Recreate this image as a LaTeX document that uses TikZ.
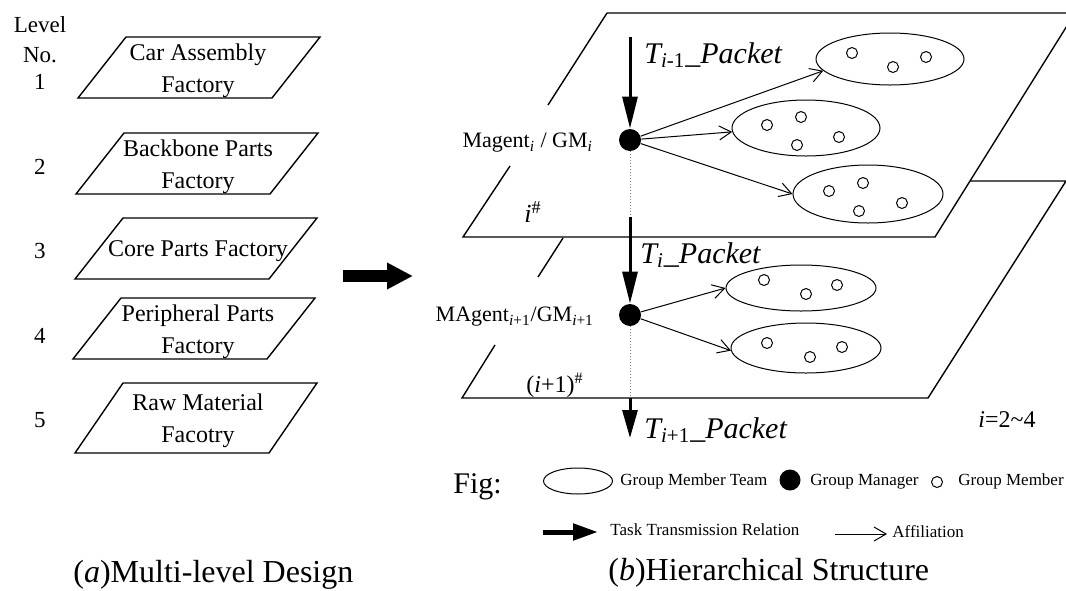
\documentclass[tikz,border=0pt]{standalone}
\usepackage{fontspec}
\setmainfont{Liberation Serif}
\usetikzlibrary{arrows.meta,shapes.geometric}

\begin{document}
\begin{tikzpicture}[x=0.5pt,y=-0.5pt]
    \tikzset{
    plate/.style={line width=0.7pt},
    lbl/.style={font=\fontsize{11.5}{14}\selectfont},
    ftxt/.style={align=center,font=\fontsize{12}{16}\selectfont},
    team/.style={ellipse,draw,line width=0.5pt,inner sep=0pt},
    mgr/.style={circle,fill=black,inner sep=0pt,minimum size=11pt},
    mbr/.style={circle,draw,line width=0.5pt,inner sep=0pt,minimum size=5.5pt},
    task/.style={line width=1.5pt,-{Triangle[length=16pt,width=7.5pt]}},
    aff/.style={line width=0.5pt,-{Straight Barb[length=6pt,width=7pt]}},
    link/.style={densely dotted,line width=0.5pt,gray},
    pkt/.style={anchor=base west,inner sep=0pt,font=\fontsize{15}{18}\selectfont\itshape},
    captxt/.style={anchor=west,inner sep=0pt,font=\fontsize{16}{19}\selectfont},
    key/.style={anchor=base west,inner sep=0pt,font=\fontsize{8.5}{10}\selectfont},
    }
    \useasboundingbox (0,0) rectangle (1066,590);

    % (a) levels
    \node[lbl] (lv) at (40,25) {Level};
    \node[lbl] (no) at (40,55) {No.};
    \foreach \y/\n in {82/1,167/2,251/3,336/4,420/5}
        \node[lbl] (n\n) at (40,\y) {\n};

    \foreach \xb/\yt/\yb/\nm/\txt in {78/37/98/f1/{Car Assembly\\Factory},
        76/133/194/f2/{Backbone Parts\\Factory},
        75/218/279/f3/{Core Parts Factory},
        73/298/359/f4/{Peripheral Parts\\Factory},
        75/383/453/f5/{Raw Material\\Facotry}} {
        \draw[plate] (\xb,\yb) -- (\xb+48,\yt) -- (\xb+242,\yt) -- (\xb+194,\yb) -- cycle;
        \node[ftxt] (\nm) at (198,{(\yt+\yb)/2+3}) {\txt};
    }

    \coordinate (a0) at (343,276);
    \coordinate (a1) at (413,276);
    \draw[line width=6pt,-{Triangle[length=13pt,width=12.5pt]}] (a0) -- (a1);

    % (b) planes
    \draw[plate] (607,13) -- (1075,13) -- (935,237) -- (463,237) -- (510,166);
    \draw[plate] (548,105) -- (607,13);
    \draw[plate] (970,181) -- (1066,181) -- (928,398) -- (462,398) -- (495,345);
    \draw[plate] (538,277) -- (563,238);

    % managers and task flow
    \coordinate (t0) at (630,37);
    \node[mgr] (m1) at (630,140) {};
    \coordinate (d1) at (630,217);
    \node[mgr] (m2) at (630,315) {};
    \coordinate (d2) at (630,398);
    \coordinate (t3) at (630,438);
    \draw[task] (t0) -- (m1);
    \draw[link] (m1) -- (d1);
    \draw[task] (d1) -- (m2);
    \draw[link] (m2) -- (d2);
    \draw[task,-{Triangle[length=14pt,width=7.5pt]}] (d2) -- (t3);

    % teams
    \node[team,minimum width=74pt,minimum height=26pt] (e1) at (890,59) {};
    \node[team,minimum width=74pt,minimum height=28pt] (e2) at (806,128) {};
    \node[team,minimum width=75pt,minimum height=29pt] (e3) at (868,194) {};
    \node[team,minimum width=75pt,minimum height=23pt] (e4) at (801,288) {};
    \node[team,minimum width=75pt,minimum height=25pt] (e5) at (806,348) {};
    \foreach \x/\y [count=\k] in {852/53,893/67,926/57,
        767/125,801/117,797/145,839/137,
        829/191,863/183,859/211,902/203,
        764/280,806/294,837/285,
        767/343,810/357,842/347}
        \node[mbr] (g\k) at (\x,\y) {};

    \draw[aff] (m1) -- (e1.190);
    \draw[aff] (m1) -- (e2.183);
    \draw[aff] (m1) -- (e3.west);
    \draw[aff] (m2) -- (e4.west);
    \draw[aff] (m2) -- (e5.182);

    % labels
    \node[anchor=east,font=\fontsize{11}{13}\selectfont] (ml1) at (600,143)
        {Magent\textsubscript{\textit{i}} / GM\textsubscript{\textit{i}}};
    \node[anchor=east,font=\fontsize{11}{13}\selectfont] (ml2) at (601,317)
        {MAgent\textsubscript{\textit{i}+1}/GM\textsubscript{\textit{i}+1}};
    \node[pkt] (p0) at (644,63) {T\textsubscript{i\textup{-1}}\_Packet};
    \node[pkt] (p1) at (640,263) {T\textsubscript{i}\_Packet};
    \node[pkt] (p2) at (644,438) {T\textsubscript{i\textup{+1}}\_Packet};
    \node[font=\fontsize{13}{15}\selectfont] (ih1) at (533,212) {\textit{i}\textsuperscript{\#}};
    \node[font=\fontsize{12}{14}\selectfont] (ih2) at (555,385) {(\textit{i}+1)\textsuperscript{\#}};
    \node[anchor=base west,inner sep=0pt,font=\fontsize{12}{14}\selectfont] (rng) at (978,427)
        {\textit{i}=2\textasciitilde4};

    % legend
    \node[anchor=west,inner sep=0pt,font=\fontsize{15}{18}\selectfont] (fig) at (453,487) {Fig:};
    \node[team,minimum width=34.5pt,minimum height=13pt] (le) at (578,481) {};
    \node[key] (lt1) at (620,485) {Group Member Team};
    \node[mgr,minimum size=10.5pt] (lm) at (790,480) {};
    \node[key] (lt2) at (810,485) {Group Manager};
    \node[mbr] (lg) at (937,482) {};
    \node[key] (lt3) at (958,485) {Group Member};
    \coordinate (k0) at (543,532);
    \coordinate (k1) at (598,532);
    \draw[line width=2.5pt,-{Triangle[length=12.5pt,width=8pt]}] (k0) -- (k1);
    \node[key] (lt4) at (610,535) {Task Transmission Relation};
    \coordinate (k2) at (835,534);
    \coordinate (k3) at (887,534);
    \draw[aff] (k2) -- (k3);
    \node[key] (lt5) at (892,537) {Affiliation};

    % captions
    \node[captxt] (ca) at (73,575) {(\textit{a})Multi-level Design};
    \node[captxt] (cb) at (608,573) {(\textit{b})Hierarchical Structure};

\end{tikzpicture}
\end{document}
